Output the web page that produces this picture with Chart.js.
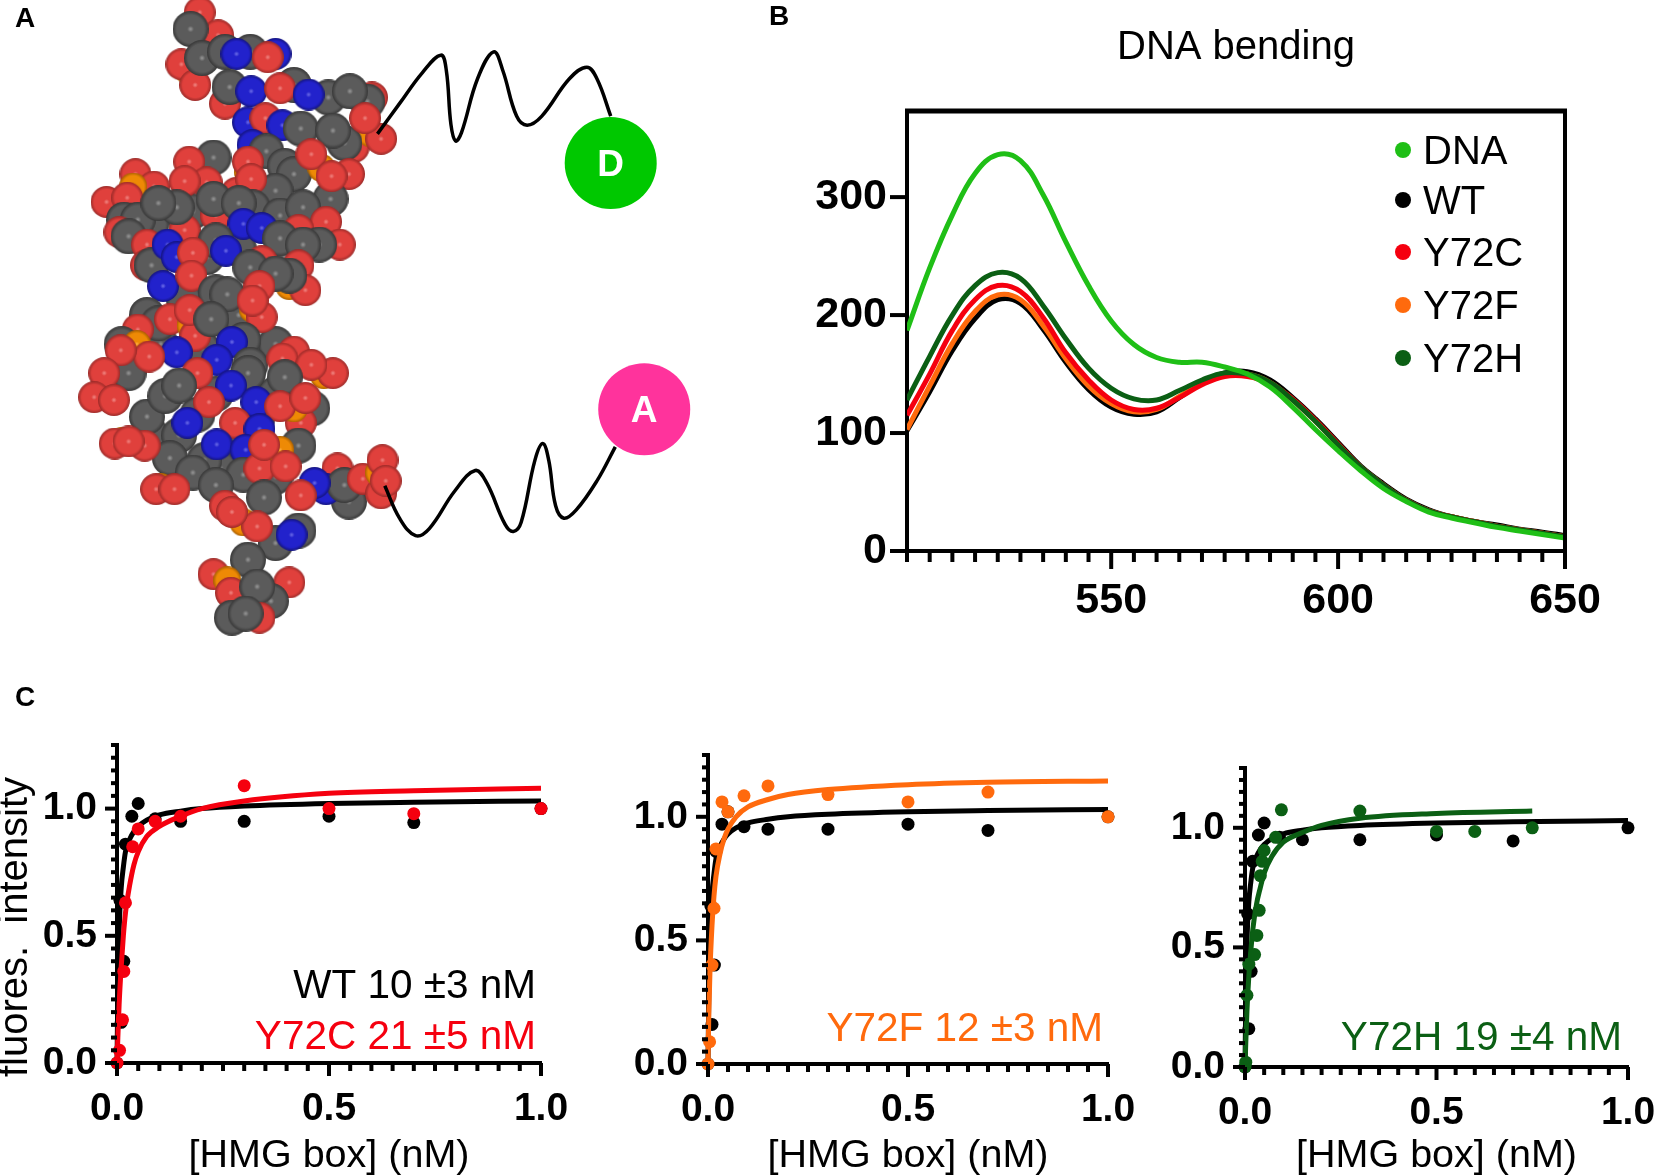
<!DOCTYPE html>
<html>
<head>
<meta charset="utf-8">
<title>DNA bending</title>
<script src="https://cdn.jsdelivr.net/npm/chart.js@4"></script>
<style>
    html, body { margin: 0; padding: 0; background: #fff; }
    #page { position: relative; width: 1654px; height: 1175px; overflow: hidden; }
    canvas { position: absolute; display: block; }
    .panel { position: absolute; font: bold 28px "Liberation Sans", Arial, sans-serif; color: #000; }
</style>
</head>
<body>
<div id="page">
    <canvas id="molecule" width="720" height="650" style="left:0;top:0"></canvas>
    <canvas id="spectrum" width="894" height="640" style="left:760px;top:0"></canvas>
    <canvas id="bindC" width="600" height="475" style="left:0;top:700px"></canvas>
    <canvas id="bindF" width="560" height="475" style="left:600px;top:700px"></canvas>
    <canvas id="bindH" width="504" height="475" style="left:1150px;top:700px"></canvas>
    <div class="panel" style="left:15px;top:2px">A</div>
    <div class="panel" style="left:769px;top:0">B</div>
    <div class="panel" style="left:15px;top:681px">C</div>
</div>
<script>
// panel B: emission spectra
const wavelengths = [505, 510, 515, 520, 525, 530, 535, 540, 545, 550, 555, 560, 565, 570, 575, 580, 585, 590, 595, 600, 605, 610, 615, 620, 625, 630, 635, 640, 645, 650];
const specDNA = [187, 240, 285, 320, 336, 331, 302, 262, 225, 195, 175, 164, 160, 160, 156, 150, 139, 122, 103, 85, 68, 53, 42, 33, 28, 24, 20, 17, 14, 11];
const specWT = [102, 135, 170, 197, 213, 210, 188, 160, 137, 122, 116, 118, 130, 143, 151, 152, 145, 130, 112, 92, 72, 57, 44, 35, 29, 25, 22, 18.5, 16, 13];
const specY72C = [115, 150, 187, 213, 225, 220, 198, 168, 145, 128, 120, 121, 130, 141, 148, 148, 142, 129, 111, 91, 71, 56, 43, 34, 29, 25, 21, 18, 15, 12];
const specY72F = [103, 140, 176, 203, 217, 213, 191, 163, 140, 125, 118, 120, 131, 143, 150, 150, 143, 128, 110, 90, 71, 56, 43, 34, 29, 25, 21, 18, 15, 12];
const specY72H = [128, 165, 200, 225, 236, 231, 208, 180, 155, 138, 129, 128, 136, 145, 151, 150, 143, 128, 110, 90, 71, 56, 43, 34, 29, 25, 21, 18, 15, 12];
const specXTicks = [550, 600, 650];
const specYTicks = [0, 100, 200, 300];
const legendNames = ['DNA', 'WT', 'Y72C', 'Y72F', 'Y72H'];

// panel C: binding curves, the WT set is repeated in all three plots
const wtX = [0, 0.007, 0.01, 0.016, 0.02, 0.035, 0.05, 0.09, 0.15, 0.3, 0.5, 0.7, 1.0];
const wtY = [0, 0.64, 0.16, 0.40, 0.86, 0.97, 1.02, 0.96, 0.95, 0.95, 0.97, 0.945, 1.0];
const y72cX = [0, 0.006, 0.013, 0.016, 0.02, 0.037, 0.05, 0.09, 0.15, 0.3, 0.5, 0.7, 1.0];
const y72cY = [0, 0.05, 0.17, 0.36, 0.63, 0.85, 0.92, 0.95, 0.97, 1.09, 1.0, 0.98, 1.0];
const y72fX = [0, 0.004, 0.01, 0.015, 0.02, 0.035, 0.05, 0.09, 0.15, 0.3, 0.5, 0.7, 1.0];
const y72fY = [0, 0.09, 0.40, 0.63, 0.87, 1.06, 1.02, 1.085, 1.125, 1.09, 1.06, 1.10, 1.0];
const y72hX = [0, 0.002, 0.005, 0.01, 0.025, 0.031, 0.037, 0.04, 0.045, 0.05, 0.08, 0.095, 0.3, 0.5, 0.6, 0.75];
const y72hY = [0, 0.02, 0.30, 0.43, 0.47, 0.55, 0.655, 0.80, 0.86, 0.905, 0.96, 1.075, 1.07, 0.985, 0.985, 1.0];

const fitX = [0, 0.002, 0.005, 0.01, 0.015, 0.02, 0.03, 0.04, 0.05, 0.07, 0.1, 0.15, 0.2, 0.3, 0.5, 0.7, 1.0];
const fitWT = [0, 0.28, 0.52, 0.69, 0.77, 0.83, 0.88, 0.91, 0.93, 0.955, 0.975, 0.99, 1.0, 1.01, 1.02, 1.025, 1.03];
const fitY72C = [0, 0.1, 0.23, 0.38, 0.5, 0.59, 0.7, 0.78, 0.83, 0.89, 0.93, 0.97, 1.0, 1.03, 1.06, 1.07, 1.08];
const fitY72F = [0, 0.2, 0.38, 0.56, 0.68, 0.76, 0.85, 0.91, 0.95, 1.0, 1.04, 1.07, 1.09, 1.11, 1.13, 1.14, 1.145];
const fitHX = [0, 0.002, 0.005, 0.01, 0.015, 0.02, 0.03, 0.04, 0.05, 0.07, 0.1, 0.15, 0.2, 0.3, 0.5, 0.75];
const fitY72H = [0, 0.1, 0.23, 0.38, 0.48, 0.57, 0.68, 0.75, 0.81, 0.88, 0.94, 0.98, 1.01, 1.04, 1.06, 1.07];
const bindXTicks = [0, 0.5, 1];
const bindYTicks = [0, 0.5, 1];

// panel A: atoms, painted in this order
const atoms = [
    ['O',435,30],['O',475,85],['C',415,70],['P',410,170],['O',395,155],['O',425,205],['C',440,140],['C',490,125],['N',600,130],['C',545,125],['N',515,130],['O',583,138],
    ['O',490,250],['C',500,210],['N',547,220],['O',810,235],['C',800,245],['C',640,205],['O',610,213],['C',715,235],['N',672,228],['C',762,220],
    ['N',540,295],['O',578,285],['N',615,302],['O',770,355],['P',805,320],['O',830,335],['C',655,310],['C',750,345],['C',725,315],['O',795,285],
    ['N',550,350],['C',580,365],['C',620,400],['O',760,420],['C',720,480],['C',640,420],['P',700,405],['O',678,372],['O',722,425],['C',600,460],['P',540,415],['O',515,465],['O',540,390],['O',547,432],
    ['C',550,500],['C',420,510],['C',330,540],['C',610,520],['C',400,580],['C',450,620],['C',520,600],['C',620,620],
    ['O',295,420],['O',232,487],['O',335,450],['P',290,450],['O',277,477],['C',465,380],['P',420,420],['O',412,390],['O',450,440],['O',402,437],['C',270,530],['C',300,530],['O',260,560],['C',280,570],['O',320,590],['O',470,520],['O',402,555],['C',385,500],['C',345,490],['C',465,480],['C',520,490],['C',660,500],['N',530,540],['N',570,550],
    ['O',710,535],['O',650,555],['O',740,590],['C',610,575],['C',695,590],['C',660,590],
    ['O',318,640],['C',330,640],['N',365,590],['N',385,620],['C',470,580],['O',570,630],['N',492,605],['O',420,610],['O',650,640],['C',545,645],['P',630,690],['O',665,700],['C',630,665],['C',600,660],
    ['C',400,720],['C',520,760],['C',440,840],['C',350,830],['C',600,830],
    ['N',355,690],['O',417,665],['C',470,705],['C',495,710],['O',565,690],['P',550,745],['O',570,765],['O',550,725],
    ['C',320,760],['C',345,780],['O',300,795],['O',370,770],['P',415,785],['O',425,810],['O',413,748],['C',460,770],['C',530,820],['N',505,825],
    ['C',265,830],['C',280,900],['N',385,850],['P',298,830],['O',325,860],['O',263,845],['N',472,868],['C',545,880],['O',640,848],
    ['C',470,950],['C',600,950],['C',430,1000],['C',560,1010],['C',330,1050],['C',500,1080],['C',480,1130],['C',600,1150],
    ['P',225,945],['O',227,900],['O',205,958],['O',248,965],['C',320,1005],['C',360,955],['O',430,900],['C',390,930],['C',540,900],['N',503,930],['O',455,970],
    ['O',615,865],['P',705,905],['O',725,900],['O',678,880],['C',620,910],['N',558,970],['C',680,985],['O',655,1020],['P',640,985],['O',610,980],['O',665,960],
    ['C',390,1050],['N',408,1020],['O',512,1020],['C',370,1105],['C',445,1110],['N',472,1072],['P',265,1065],['O',250,1070],['O',315,1075],['O',280,1065],
    ['C',650,1075],['N',565,1035],['N',535,1085],['C',530,1145],['O',565,1130],['P',610,1085],['O',575,1073],['O',622,1125],
    ['C',420,1140],['P',350,1175],['O',340,1180],['O',380,1180],['C',470,1170],['C',760,1210],['O',735,1130],['N',710,1180],['C',750,1170],['N',685,1165],['O',655,1195],['C',575,1200],
    ['O',790,1155],['O',830,1190],['P',825,1140],['O',833,1110],['O',840,1160],
    ['C',650,1280],['C',600,1310],['N',635,1290],['P',530,1260],['O',490,1220],['O',560,1270],['O',505,1235],
    ['O',630,1405],['O',465,1385],['C',540,1350],['P',495,1400],['O',503,1430],['C',590,1450],['C',560,1415],['O',565,1490],['C',505,1490],['C',535,1480]
];
const donorLinkerX = [822, 870, 920, 960, 972, 982, 992, 1005, 1040, 1075, 1095, 1125, 1148, 1180, 1240, 1278, 1300, 1330];
const donorLinkerY = [323, 250, 175, 133, 170, 300, 340, 320, 190, 125, 170, 280, 302, 280, 190, 162, 190, 280];
const acceptorLinkerX = [838, 870, 905, 935, 990, 1035, 1060, 1100, 1118, 1135, 1165, 1182, 1195, 1210, 1228, 1255, 1300, 1340];
const acceptorLinkerY = [1172, 1250, 1292, 1275, 1185, 1135, 1165, 1265, 1282, 1260, 1110, 1070, 1110, 1220, 1250, 1230, 1160, 1078];
const dyeNames = ['D', 'A'];
const dyeX = [1330, 1403];
const dyeY = [393, 987];

const FONT = '"Liberation Sans", Arial, sans-serif';
const GREEN = '#1fbf16', BLACK = '#000000', RED = '#f5000f', ORANGE = '#ff6a0d', DARK = '#0b5f14';
const LINE_COLORS = [GREEN, BLACK, RED, ORANGE, DARK];

Chart.defaults.animation = false;
Chart.defaults.responsive = false;
Chart.defaults.devicePixelRatio = 1;
Chart.defaults.font.family = FONT;
Chart.defaults.color = '#000';

function zip(xs, ys) {
    return xs.map((x, i) => ({ x: x, y: ys[i] }));
}

function hasTick(list, v) {
    return list.some(t => Math.abs(t - v) < 1e-6);
}

// fixed axis box, without the room chart.js keeps for the end labels
function fixBox(s, size) {
    if (s.isHorizontal()) s.height = size; else s.width = size;
    s.paddingLeft = s.paddingRight = s.paddingTop = s.paddingBottom = 0;
}

// tick marks: long on labelled ticks, short on the others
const axisMarks = {
    id: 'axisMarks',
    afterDraw(chart, args, opts) {
        const c = chart.ctx, area = chart.chartArea;
        c.save();
        c.strokeStyle = '#000';
        c.lineWidth = opts.width;
        chart.scales.x.ticks.forEach((t, i) => {
            const len = t.label !== '' ? opts.majorX : opts.minorX;
            const x = chart.scales.x.getPixelForTick(i);
            c.beginPath(); c.moveTo(x, area.bottom); c.lineTo(x, area.bottom + len); c.stroke();
        });
        chart.scales.y.ticks.forEach((t, i) => {
            const len = t.label !== '' ? opts.majorY : opts.minorY;
            const y = chart.scales.y.getPixelForTick(i);
            c.beginPath(); c.moveTo(area.left, y); c.lineTo(area.left - len, y); c.stroke();
        });
        c.restore();
    }
};

// free text inside a plot (fit values, axis title of panel C)
const plotText = {
    id: 'plotText',
    afterDraw(chart, args, opts) {
        const c = chart.ctx;
        (opts.items || []).forEach(t => {
            c.save();
            c.font = t.font;
            c.fillStyle = t.color;
            c.textAlign = t.align;
            c.textBaseline = 'middle';
            c.translate(t.x, t.y);
            if (t.rotate) c.rotate(t.rotate);
            c.fillText(t.text, 0, 0);
            c.restore();
        });
    }
};

const boxFrame = {
    id: 'boxFrame',
    afterDraw(chart) {
        const c = chart.ctx, a = chart.chartArea;
        c.save();
        c.strokeStyle = '#000';
        c.lineWidth = 4;
        c.beginPath(); c.moveTo(a.right, a.bottom); c.lineTo(a.right, a.top); c.stroke();
        c.lineWidth = 5;
        c.beginPath(); c.moveTo(a.left - 2, a.top); c.lineTo(a.right + 2, a.top); c.stroke();
        c.restore();
    }
};

const dotLegend = {
    id: 'dotLegend',
    afterDraw(chart) {
        const c = chart.ctx;
        const ys = [150, 200, 252, 305, 358];
        c.save();
        c.font = '40px ' + FONT;
        c.textBaseline = 'middle';
        legendNames.forEach((name, i) => {
            c.fillStyle = LINE_COLORS[i];
            c.beginPath(); c.arc(643, ys[i], 8, 0, Math.PI * 2); c.fill();
            c.fillStyle = '#000';
            c.fillText(name, 663, ys[i] + 3);
        });
        c.restore();
    }
};

const spectrumOrder = [1, 3, 2, 4, 0]; // WT at the back, DNA in front
const spectrumSeries = [specDNA, specWT, specY72C, specY72F, specY72H];

new Chart(document.getElementById('spectrum'), {
    type: 'scatter',
    data: {
        datasets: legendNames.map((name, i) => ({
            label: name,
            data: zip(wavelengths, spectrumSeries[i]),
            showLine: true,
            borderColor: LINE_COLORS[i],
            borderWidth: 5,
            pointRadius: 0,
            tension: 0.4,
            order: -spectrumOrder.indexOf(i)
        }))
    },
    options: {
        layout: { autoPadding: false, padding: { left: 0, right: 89, top: 0, bottom: 0 } },
        plugins: {
            legend: { display: false },
            tooltip: { enabled: false },
            title: {
                display: true,
                fullSize: false,
                text: 'DNA bending',
                font: { size: 40, weight: 'normal' },
                color: '#000',
                padding: { top: 24, bottom: 39 }
            },
            axisMarks: { width: 4, majorX: 18, minorX: 11, majorY: 17, minorY: 17 }
        },
        scales: {
            x: {
                type: 'linear', min: 505, max: 650,
                afterFit: s => fixBox(s, 89),
                grid: { display: false },
                border: { color: '#000', width: 4 },
                ticks: {
                    stepSize: 5, autoSkip: false, maxRotation: 0, padding: 16, includeBounds: false,
                    font: { size: 43, weight: 'bold' },
                    callback: v => hasTick(specXTicks, v) ? v.toFixed(0) : ''
                }
            },
            y: {
                type: 'linear', min: 0, max: 373,
                afterFit: s => fixBox(s, 147),
                grid: { display: false },
                border: { color: '#000', width: 4 },
                ticks: {
                    stepSize: 100, padding: 12, includeBounds: false,
                    font: { size: 43, weight: 'bold' },
                    callback: v => hasTick(specYTicks, v) ? v.toFixed(0) : ''
                }
            }
        }
    },
    plugins: [axisMarks, boxFrame, dotLegend]
});

function bindingChart(id, g, series, notes) {
    const datasets = [];
    series.forEach((s, i) => {
        datasets.push({
            data: zip(s.fitX, s.fitY),
            showLine: true,
            borderColor: s.color,
            borderWidth: 5,
            pointRadius: 0,
            cubicInterpolationMode: 'monotone',
            clip: false,
            order: -i * 2
        });
        datasets.push({
            data: zip(s.x, s.y),
            showLine: false,
            pointRadius: 6.5,
            pointBackgroundColor: s.color,
            pointBorderWidth: 0,
            clip: false,
            order: -i * 2 - 1
        });
    });
    new Chart(document.getElementById(id), {
        type: 'scatter',
        data: { datasets: datasets },
        options: {
            layout: { autoPadding: false, padding: { left: 0, right: g.right, top: g.top, bottom: 0 } },
            plugins: {
                legend: { display: false },
                tooltip: { enabled: false },
                axisMarks: { width: 4, majorX: 13, minorX: 8, majorY: 12, minorY: 6 },
                plotText: { items: notes }
            },
            scales: {
                x: {
                    type: 'linear', min: 0, max: 1,
                    afterFit: s => fixBox(s, g.bottom),
                    grid: { display: false },
                    border: { color: '#000', width: 4 },
                    title: {
                        display: true,
                        text: '[HMG box] (nM)',
                        font: { size: 39.5, weight: 'normal', lineHeight: 1 },
                        color: '#000',
                        padding: { top: 0, bottom: -1 }
                    },
                    ticks: {
                        stepSize: 0.05, autoSkip: false, maxRotation: 0, padding: 15, includeBounds: false,
                        font: { size: 39, weight: 'bold' },
                        callback: v => hasTick(bindXTicks, v) ? v.toFixed(1) : ''
                    }
                },
                y: {
                    type: 'linear', min: 0, max: 1.25,
                    afterFit: s => fixBox(s, g.left),
                    grid: { display: false },
                    border: { color: '#000', width: 4 },
                    ticks: {
                        stepSize: 0.05, autoSkip: false, padding: 12, includeBounds: false,
                        font: { size: 39, weight: 'bold' },
                        callback: v => hasTick(bindYTicks, v) ? v.toFixed(1) : ''
                    }
                }
            }
        },
        plugins: [axisMarks, plotText]
    });
}

const noteFont = '40.5px ' + FONT;
const wtSeries = { x: wtX, y: wtY, fitX: fitX, fitY: fitWT, color: BLACK };

bindingChart('bindC', { left: 117, right: 59, top: 45, bottom: 112 }, [
    wtSeries,
    { x: y72cX, y: y72cY, fitX: fitX, fitY: fitY72C, color: RED }
], [
    { text: 'WT 10 ±3 nM', x: 536, y: 287, align: 'right', font: noteFont, color: BLACK },
    { text: 'Y72C 21 ±5 nM', x: 536, y: 338, align: 'right', font: noteFont, color: RED },
    { text: 'fluores.  intensity', x: 16, y: 227, align: 'center', font: '40px ' + FONT, color: BLACK, rotate: -Math.PI / 2 }
]);

bindingChart('bindF', { left: 108, right: 52, top: 55, bottom: 111 }, [
    wtSeries,
    { x: y72fX, y: y72fY, fitX: fitX, fitY: fitY72F, color: ORANGE }
], [
    { text: 'Y72F 12 ±3 nM', x: 503, y: 330, align: 'right', font: noteFont, color: ORANGE }
]);

bindingChart('bindH', { left: 95, right: 26, top: 68, bottom: 108 }, [
    wtSeries,
    { x: y72hX, y: y72hY, fitX: fitHX, fitY: fitY72H, color: DARK }
], [
    { text: 'Y72H 19 ±4 nM', x: 472, y: 339, align: 'right', font: noteFont, color: DARK }
]);

// shaded sphere used as the point style of each atom
function sphere(radius, light, mid, dark) {
    const cv = document.createElement('canvas');
    cv.width = cv.height = radius * 2;
    const c = cv.getContext('2d');
    const g = c.createRadialGradient(radius, radius, 0, radius, radius, radius);
    g.addColorStop(0, light);
    g.addColorStop(0.18, mid);
    g.addColorStop(0.78, mid);
    g.addColorStop(1, dark);
    c.fillStyle = g;
    c.beginPath(); c.arc(radius, radius, radius, 0, Math.PI * 2); c.fill();
    return cv;
}

const atomStyles = {
    O: sphere(16, '#f08a86', '#e0403c', '#9a2a28'),
    C: sphere(18, '#9a9a9a', '#5b5b5b', '#383838'),
    N: sphere(16, '#6f6fe8', '#2222cc', '#14147e'),
    P: sphere(14, '#ffb24d', '#ee8a05', '#a85f00')
};

const dyeLabels = {
    id: 'dyeLabels',
    afterDraw(chart) {
        const c = chart.ctx;
        c.save();
        c.font = 'bold 37px ' + FONT;
        c.fillStyle = '#fff';
        c.textAlign = 'center';
        c.textBaseline = 'middle';
        dyeNames.forEach((name, i) => {
            c.fillText(name, chart.scales.x.getPixelForValue(dyeX[i]), chart.scales.y.getPixelForValue(dyeY[i]) + 3);
        });
        c.restore();
    }
};

new Chart(document.getElementById('molecule'), {
    type: 'scatter',
    data: {
        datasets: [
            {
                data: zip(dyeX, dyeY),
                pointRadius: 46,
                pointBackgroundColor: ['#00c800', '#ff339c'],
                pointBorderWidth: 0,
                clip: false,
                order: -3
            },
            {
                data: zip(donorLinkerX, donorLinkerY),
                showLine: true, borderColor: '#000', borderWidth: 3.5, pointRadius: 0, tension: 0.4, clip: false, order: -2
            },
            {
                data: zip(acceptorLinkerX, acceptorLinkerY),
                showLine: true, borderColor: '#000', borderWidth: 3.5, pointRadius: 0, tension: 0.4, clip: false, order: -1
            },
            {
                data: atoms.map(a => ({ x: a[1], y: a[2], kind: a[0] })),
                pointStyle: ctx => atomStyles[ctx.raw.kind],
                pointRadius: 16,
                clip: false,
                order: 0
            }
        ]
    },
    options: {
        layout: { autoPadding: false, padding: 0 },
        plugins: { legend: { display: false }, tooltip: { enabled: false } },
        scales: {
            x: { type: 'linear', min: 0, max: 1568, display: false },
            y: { type: 'linear', min: 0, max: 1568, reverse: true, display: false }
        }
    },
    plugins: [dyeLabels]
});
</script>
</body>
</html>
